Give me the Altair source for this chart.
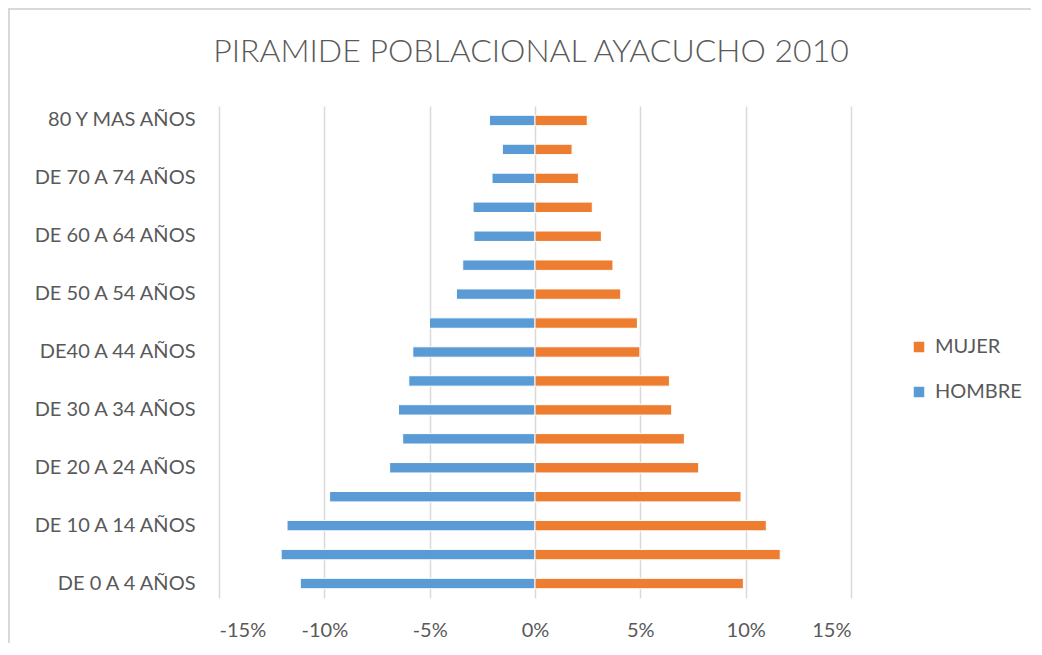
import altair as alt
import pandas as pd

# Age groups, bottom (youngest) to top (oldest)
grupos = [
    "DE 0 A 4 AÑOS", "DE 5 A 9 AÑOS", "DE 10 A 14 AÑOS", "DE 15 A 19 AÑOS",
    "DE 20 A 24 AÑOS", "DE 25 A 29 AÑOS", "DE 30 A 34 AÑOS", "DE 35 A 39 AÑOS",
    "DE40 A 44 AÑOS", "DE 45 A 49 AÑOS", "DE 50 A 54 AÑOS", "DE 55 A 59 AÑOS",
    "DE 60 A 64 AÑOS", "DE 65 A 69 AÑOS", "DE 70 A 74 AÑOS", "DE 75 A 79 AÑOS",
    "80 Y MAS AÑOS",
]
hombre = [11.14, 12.05, 11.77, 9.75, 6.90, 6.28, 6.48, 5.99, 5.80, 5.01,
          3.73, 3.43, 2.90, 2.94, 2.04, 1.55, 2.16]
mujer = [9.89, 11.64, 10.98, 9.78, 7.77, 7.09, 6.49, 6.38, 4.98, 4.86,
         4.07, 3.70, 3.15, 2.72, 2.06, 1.76, 2.48]
series = ["MUJER", "HOMBRE"]
colores = ["#ED7D31", "#5B9BD5"]
ticks = [-15, -10, -5, 0, 5, 10, 15]
titulo = "PIRAMIDE POBLACIONAL AYACUCHO 2010"

rows = []
for g, h, m in zip(grupos, hombre, mujer):
    rows.append({"grupo": g, "sexo": "HOMBRE", "valor": -h})
    rows.append({"grupo": g, "sexo": "MUJER", "valor": m})
df = pd.DataFrame(rows)

orden_y = list(reversed(grupos))
shown = [g for i, g in enumerate(grupos) if i % 2 == 0]
label_expr = "indexof(" + str(shown).replace('"', "'") + ", datum.value) >= 0 ? datum.value : ''"

FONT = "Lato"
GRAY = "#595959"

bars = alt.Chart(df).mark_bar(stroke="white", strokeWidth=1).encode(
    x=alt.X("valor:Q",
            scale=alt.Scale(domain=[-15, 15], nice=False),
            axis=alt.Axis(values=ticks, labelExpr="datum.value + '%'", title=None,
                          domain=False, ticks=False, grid=True, gridColor="#D9D9D9",
                          gridWidth=1.5, labelFontSize=20, labelColor=GRAY,
                          labelFont=FONT, labelPadding=22)),
    y=alt.Y("grupo:N", sort=orden_y,
            scale=alt.Scale(paddingInner=0.64, paddingOuter=0.32),
            axis=alt.Axis(title=None, domain=False, ticks=False, grid=False,
                          labelExpr=label_expr, labelFontSize=20, labelColor=GRAY,
                          labelFont=FONT, labelPadding=24)),
    color=alt.Color("sexo:N",
                    scale=alt.Scale(domain=series, range=colores),
                    legend=alt.Legend(title=None, orient="none", legendX=690, legendY=231,
                                      symbolType="square", symbolSize=110,
                                      symbolStrokeWidth=0, labelFontSize=20,
                                      labelColor=GRAY, labelFont=FONT, labelOffset=6,
                                      rowPadding=25, padding=0)),
)

one = pd.DataFrame({"t": [titulo]})
title_mark = alt.Chart(one).mark_text(
    font=FONT, fontSize=32, fontWeight=300, color=GRAY, align="center",
    baseline="alphabetic"
).encode(text="t:N", x=alt.value(312), y=alt.value(-44))

frame_top = alt.Chart(one).mark_rule(color="#D9D9D9", strokeWidth=2).encode(
    x=alt.value(-211), x2=alt.value(812), y=alt.value(-97))
frame_left = alt.Chart(one).mark_rule(color="#D9D9D9", strokeWidth=2).encode(
    x=alt.value(-210), y=alt.value(-98), y2=alt.value(541))

chart = alt.layer(frame_top, frame_left, title_mark, bars).properties(
    width=632, height=492,
    autosize=alt.AutoSizeParams(type="none"),
    padding={"left": 211, "top": 98, "right": 180, "bottom": 45},
).configure_view(stroke=None)

chart.save("out.html", embed_options={"renderer": "svg", "actions": False})
